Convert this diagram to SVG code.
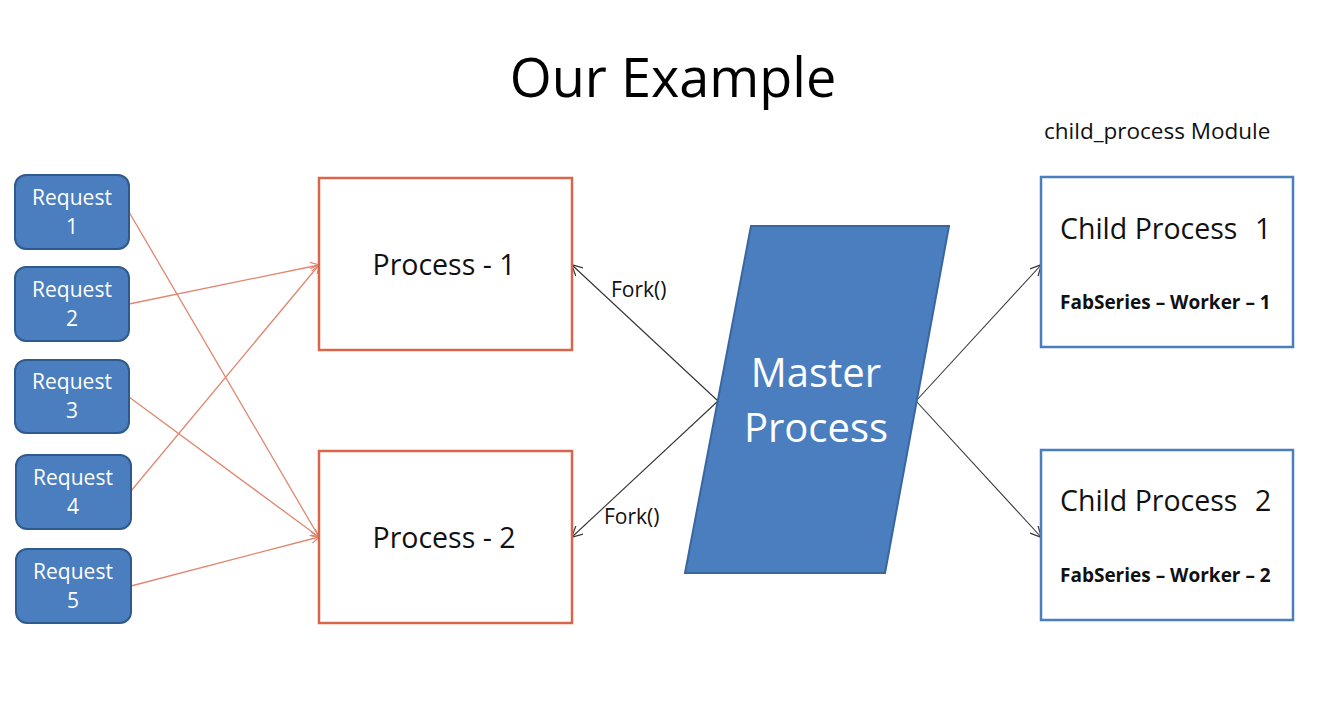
<svg xmlns="http://www.w3.org/2000/svg" width="1333" height="728" viewBox="0 0 1333 728">
<defs>
<style>
text{font-family:"Open Sans","Noto Sans","Liberation Sans",sans-serif}
.req rect{fill:#4A7EBF;stroke:#2F5A8E;stroke-width:2}
.req text{fill:#ffffff;font-size:21px;text-anchor:middle}
.proc rect{fill:#ffffff;stroke:#D9664A;stroke-width:2.5}
.proc text{fill:#111;font-size:28.5px;text-anchor:middle}
.child rect{fill:#ffffff;stroke:#4A7EBF;stroke-width:2.5}
.child .t{fill:#111;font-size:28.5px}
.child .b{fill:#111;font-size:19px;font-weight:bold}
.red{stroke:#E08670;stroke-width:1.3;fill:none;marker-end:url(#ar)}
.blk{stroke:#333;stroke-width:1.1;fill:none;marker-end:url(#ab)}
.lbl{font-size:21px;fill:#111}
</style>
<marker id="ar" viewBox="0 0 10 10" refX="9.5" refY="5" markerWidth="9" markerHeight="9" markerUnits="userSpaceOnUse" orient="auto">
<path d="M0,0 L10,5 L0,10" fill="none" stroke="#E08670" stroke-width="1.3"/>
</marker>
<marker id="ab" viewBox="0 0 10 10" refX="9.5" refY="5" markerWidth="11" markerHeight="11" markerUnits="userSpaceOnUse" orient="auto">
<path d="M0,0 L10,5 L0,10" fill="none" stroke="#333" stroke-width="1.1"/>
</marker>
</defs>
<rect width="1333" height="728" fill="#ffffff"/>
<text x="673" y="97" font-size="54" text-anchor="middle" fill="#000">Our Example</text>
<text x="1044" y="139" font-size="22.5" fill="#111">child_process Module</text>

<g id="connectors">
<line class="red" x1="129" y1="212" x2="319" y2="537"/>
<line class="red" x1="129" y1="304" x2="319" y2="265"/>
<line class="red" x1="129" y1="397" x2="319" y2="537"/>
<line class="red" x1="131" y1="491" x2="319" y2="265"/>
<line class="red" x1="131" y1="586" x2="319" y2="537"/>
<line class="blk" x1="718" y1="401" x2="572" y2="265"/>
<line class="blk" x1="718" y1="401" x2="572" y2="537"/>
<line class="blk" x1="916" y1="401" x2="1041" y2="265"/>
<line class="blk" x1="916" y1="401" x2="1041" y2="537"/>
<text class="lbl" x="611" y="297">Fork()</text>
<text class="lbl" x="604" y="524">Fork()</text>
</g>

<g id="req1" class="req"><rect x="15" y="175" width="114" height="74" rx="11"/><text x="72" y="205">Request</text><text x="72" y="234">1</text></g>
<g id="req2" class="req"><rect x="15" y="267" width="114" height="74" rx="11"/><text x="72" y="297">Request</text><text x="72" y="326">2</text></g>
<g id="req3" class="req"><rect x="15" y="360" width="114" height="73" rx="11"/><text x="72" y="389">Request</text><text x="72" y="418">3</text></g>
<g id="req4" class="req"><rect x="16" y="455" width="115" height="74" rx="11"/><text x="73" y="485">Request</text><text x="73" y="514">4</text></g>
<g id="req5" class="req"><rect x="16" y="549" width="115" height="74" rx="11"/><text x="73" y="579">Request</text><text x="73" y="608">5</text></g>

<g id="proc1" class="proc"><rect x="319" y="178" width="253" height="172"/><text x="444" y="275">Process - 1</text></g>
<g id="proc2" class="proc"><rect x="319" y="451" width="253" height="172"/><text x="444" y="548">Process - 2</text></g>

<g id="master"><polygon points="751,226 949,226 885,573 685,573" fill="#4A7EBF" stroke="#3A66A0" stroke-width="2"/>
<text x="816" y="387" font-size="40" fill="#fff" text-anchor="middle">Master</text>
<text x="816" y="442" font-size="40" fill="#fff" text-anchor="middle">Process</text></g>

<g id="child1" class="child"><rect x="1041" y="177" width="252" height="170"/><text class="t" x="1060" y="239">Child Process <tspan x="1255">1</tspan></text><text class="b" x="1060" y="309">FabSeries – Worker – 1</text></g>
<g id="child2" class="child"><rect x="1041" y="450" width="252" height="170"/><text class="t" x="1060" y="511">Child Process <tspan x="1255">2</tspan></text><text class="b" x="1060" y="582">FabSeries – Worker – 2</text></g>
</svg>
